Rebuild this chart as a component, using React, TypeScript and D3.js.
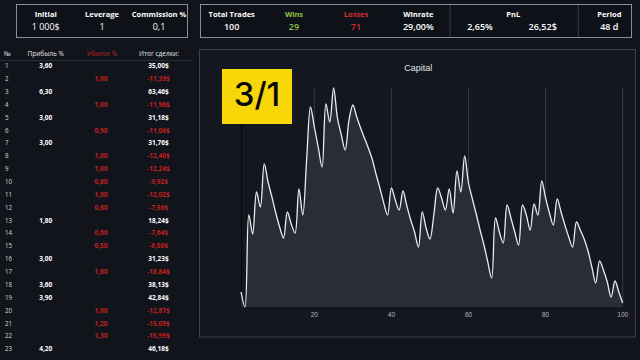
import React from 'react';
import * as d3 from 'd3';

const leftLabels = ['Initial', 'Leverage', 'Commission %'];
const leftValues = ['1 000$', '1', '0,1'];

const rightLabels = ['Total Trades', 'Wins', 'Losses', 'Winrate', 'PnL', 'Period'];
const rightValues = ['100', '29', '71', '29,00%', '2,65%', '26,52$', '48 d'];

const tableHeaders = ['№', 'Прибыль %', 'Убыток %', 'Итог сделки:'];
const rowNumbers = ['1','2','3','4','5','6','7','8','9','10','11','12','13','14','15','16','17','18','19','20','21','22','23'];
const profits = ['3,60','','6,30','','3,00','','3,00','','','','','','1,80','','','3,00','','3,60','3,90','','','','4,20'];
const losses = ['','1,00','','1,00','','0,90','','1,00','1,00','0,80','1,00','0,60','','0,60','0,50','','1,60','','','1,00','1,20','1,30',''];
const totals = ['35,00$','-11,39$','63,46$','-11,96$','31,18$','-11,06$','31,76$','-12,40$','-12,24$','-9,92$','-12,02$','-7,56$','18,24$','-7,64$','-6,50$','31,23$','-18,84$','38,13$','42,84$','-12,87$','-15,09$','-15,99$','46,18$'];

const capital = [
  1030, 1000, 1184, 1146, 1230, 1200, 1286, 1250, 1220, 1188,
  1160, 1138, 1190, 1166, 1148, 1236, 1184, 1294, 1400, 1360,
  1320, 1280, 1406, 1370, 1438, 1378, 1344, 1314, 1374, 1404,
  1380, 1358, 1338, 1318, 1296, 1266, 1238, 1208, 1184, 1238,
  1214, 1194, 1232, 1202, 1174, 1150, 1120, 1190, 1158, 1136,
  1184, 1238, 1218, 1194, 1236, 1188, 1272, 1230, 1302, 1248,
  1216, 1186, 1154, 1124, 1090, 1058, 1178, 1150, 1128, 1204,
  1178, 1150, 1124, 1204, 1184, 1154, 1206, 1184, 1252, 1218,
  1188, 1164, 1216, 1190, 1164, 1140, 1120, 1170, 1154, 1136,
  1112, 1080, 1048, 1092, 1074, 1050, 1020, 1052, 1030, 1008,
];
const xTicks = [20, 40, 60, 80, 100];

const BG = '#12141c';
const FONT = "'Open Sans', 'Noto Sans', sans-serif";
const GREEN = '#8bc34a';
const RED = '#d32f2f';
const TRED = '#c0201f';

export default function App() {
  const trades = capital.map((_, i) => i + 1);
  const x = d3.scaleLinear().domain([1, 100]).range([241.1, 622.7]);
  const y = d3
    .scaleLinear()
    .domain([d3.min(capital) as number, d3.max(capital) as number])
    .range([307, 88]);
  const pts: [number, number][] = capital.map((v, i) => [trades[i], v]);
  const line = d3
    .line<[number, number]>()
    .x((d) => x(d[0]))
    .y((d) => y(d[1]))
    .curve(d3.curveCatmullRom.alpha(0.5));
  const area = d3
    .area<[number, number]>()
    .x((d) => x(d[0]))
    .y0(307)
    .y1((d) => y(d[1]))
    .curve(d3.curveCatmullRom.alpha(0.5));

  const leftX = [45.7, 102, 159];
  const rightLabelX = [231.7, 294, 356, 418.3, 513.3, 609.3];
  const rightValueX = [231.7, 294, 356, 418.3, 480, 542.7, 609.3];
  const rightLabelColor = ['#fff', GREEN, RED, '#fff', '#fff', '#fff'];
  const rightValueColor = ['#fff', GREEN, RED, '#fff', '#fff', '#fff', '#fff'];
  const rowY = (i: number) => 66 + i * 12.86;

  return (
    <svg
      width={640}
      height={360}
      style={{ position: 'absolute', left: 0, top: 0, background: BG }}
      fontFamily={FONT}
    >
      <rect x={0} y={0} width={640} height={360} fill={BG} />
      {/* left header */}
      <rect x={16.5} y={4.5} width={171} height={33} fill="#0f1118" stroke="#8a8c94" strokeWidth={1} />
      {leftLabels.map((l, i) => (
        <text key={l} x={leftX[i]} y={17} textAnchor="middle" fill="#fff" fontSize={7.5} fontWeight={700}>
          {l}
        </text>
      ))}
      {leftValues.map((v, i) => (
        <text key={i} x={leftX[i]} y={30} textAnchor="middle" fill="#fff" fontSize={9}>
          {v}
        </text>
      ))}
      {/* right header */}
      <rect x={200.5} y={4.5} width={431} height={33} fill="#0f1118" stroke="#8a8c94" strokeWidth={1} />
      <line x1={450} x2={450} y1={5} y2={37} stroke="#3a3d47" />
      <line x1={578.3} x2={578.3} y1={5} y2={37} stroke="#3a3d47" />
      {rightLabels.map((l, i) => (
        <text key={l} x={rightLabelX[i]} y={17} textAnchor="middle" fill={rightLabelColor[i]} fontSize={7.5} fontWeight={700}>
          {l}
        </text>
      ))}
      {rightValues.map((v, i) => (
        <text key={i} x={rightValueX[i]} y={30} textAnchor="middle" fill={rightValueColor[i]} fontSize={9} fontWeight={600}>
          {v}
        </text>
      ))}
      {/* table */}
      {tableHeaders.map((h, i) => (
        <text
          key={h}
          x={i === 0 ? 4 : leftX[i - 1]}
          y={55.5}
          textAnchor={i === 0 ? 'start' : 'middle'}
          fill={i === 2 ? TRED : '#e6e6e6'}
          fontSize={6.5}
        >
          {h}
        </text>
      ))}
      <line x1={0} x2={192} y1={60.5} y2={60.5} stroke="#2c2f38" />
      {rowNumbers.map((n, i) => (
        <g key={n}>
          <text x={5} y={rowY(i) + 2.3} fill="#d8d8d8" fontSize={6.2}>
            {n}
          </text>
          {profits[i] && (
            <text x={45.7} y={rowY(i) + 2.3} textAnchor="middle" fill="#fff" fontSize={6.5} fontWeight={700}>
              {profits[i]}
            </text>
          )}
          {losses[i] && (
            <text x={101} y={rowY(i) + 2.3} textAnchor="middle" fill={TRED} fontSize={6.5} fontWeight={700}>
              {losses[i]}
            </text>
          )}
          <text
            x={158.5}
            y={rowY(i) + 2.3}
            textAnchor="middle"
            fill={totals[i].startsWith('-') ? TRED : '#fff'}
            fontSize={6.5}
            fontWeight={700}
          >
            {totals[i]}
          </text>
        </g>
      ))}
      {/* chart panel */}
      <rect x={199.5} y={49.5} width={436} height={287.5} fill="#141620" stroke="#3e414b" strokeWidth={1} />
      <text x={418.3} y={71} textAnchor="middle" fill="#e0e0e0" fontSize={9} fontFamily="'Liberation Sans', Arial, sans-serif">
        Capital
      </text>
      {xTicks.map((t) => (
        <g key={t}>
          <line x1={x(t)} x2={x(t)} y1={88} y2={307} stroke="#363944" strokeWidth={1} />
          <text x={x(t)} y={316.5} textAnchor="middle" fill="#b8b8b8" fontSize={6.5} fontFamily="'Liberation Sans', Arial, sans-serif">
            {t}
          </text>
        </g>
      ))}
      <line x1={241.5} x2={241.5} y1={88} y2={307} stroke="#05060a" strokeWidth={1} />
      <path d={area(pts) || ''} fill="#2a2d37" />
      <path d={line(pts) || ''} fill="none" stroke="#ececec" strokeWidth={1.3} />
      {/* badge */}
      <rect x={222} y={69} width={70} height={55} fill="#f7d708" />
      <text x={257} y={106} textAnchor="middle" fill="#0a0a0a" fontSize={33} fontWeight={500} fontFamily="Inter, 'Open Sans', sans-serif">
        3/1
      </text>
    </svg>
  );
}
